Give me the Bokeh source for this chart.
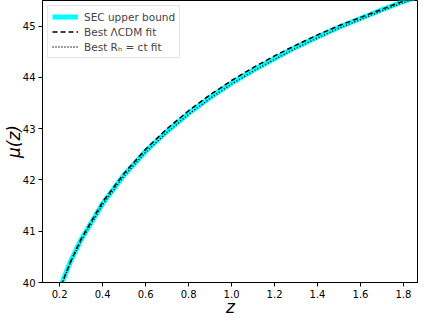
from bokeh.plotting import figure
from bokeh.models import Range1d, FixedTicker, PrintfTickFormatter, Legend, LegendItem
from bokeh.embed import file_html
from bokeh.resources import INLINE

z = [0.15, 0.2, 0.25, 0.3, 0.4, 0.5, 0.6, 0.7, 0.8, 0.9, 1.0, 1.1, 1.2, 1.3, 1.4, 1.5, 1.6, 1.7, 1.8, 1.85]
mu_rh = [39.19, 39.86, 40.39, 40.82, 41.52, 42.08, 42.54, 42.93, 43.28, 43.59, 43.87, 44.12, 44.35,
         44.57, 44.77, 44.96, 45.13, 45.30, 45.46, 45.53]
mu_sec = [39.21, 39.88, 40.41, 40.84, 41.54, 42.10, 42.56, 42.95, 43.30, 43.61, 43.89, 44.14, 44.37,
          44.59, 44.79, 44.98, 45.15, 45.32, 45.48, 45.55]
mu_lcdm = [39.19, 39.87, 40.40, 40.85, 41.57, 42.13, 42.60, 43.00, 43.35, 43.66, 43.94, 44.19, 44.42,
           44.63, 44.83, 45.01, 45.17, 45.33, 45.49, 45.56]
x_ticks = [0.2, 0.4, 0.6, 0.8, 1.0, 1.2, 1.4, 1.6, 1.8]
y_ticks = [40, 41, 42, 43, 44, 45]

p = figure(width=418, height=319, output_backend="svg", toolbar_location=None,
           x_range=Range1d(0.12, 1.87), y_range=Range1d(40, 45.5),
           min_border_left=0, min_border_right=0, min_border_top=0, min_border_bottom=0)
p.grid.visible = False
p.outline_line_color = "black"
p.outline_line_alpha = 1
p.outline_line_width = 1

r_sec = p.line(z, mu_sec, line_color="cyan", line_width=5)
r_lcdm = p.line(z, mu_lcdm, line_color="black", line_width=1.5, line_dash="5 3")
r_rh = p.line(z, mu_rh, line_color="black", line_width=1.5, line_dash="1 2")

for ax in (p.xaxis[0], p.yaxis[0]):
    ax.major_label_text_font = "DejaVu Sans"
    ax.major_label_text_font_size = "10px"
    ax.major_label_text_color = "black"
    ax.major_tick_in = 0
    ax.major_tick_out = 4
    ax.minor_tick_out = 0
    ax.minor_tick_in = 0
    ax.axis_line_color = "black"
    ax.major_tick_line_color = "black"
    ax.axis_label_text_font = "DejaVu Sans"
    ax.axis_label_text_font_style = "italic"
    ax.axis_label_text_font_size = "17px"
    ax.axis_label_text_color = "black"
    ax.major_label_standoff = 3

p.xaxis[0].axis_label_standoff = -4
p.yaxis[0].axis_label_standoff = -4
p.xaxis[0].ticker = FixedTicker(ticks=x_ticks)
p.xaxis[0].formatter = PrintfTickFormatter(format="%.1f")
p.yaxis[0].ticker = FixedTicker(ticks=y_ticks)
p.xaxis[0].axis_label = "z"
p.yaxis[0].axis_label = "μ(z)"

legend = Legend(items=[
    LegendItem(label="SEC upper bound", renderers=[r_sec]),
    LegendItem(label="Best ΛCDM fit", renderers=[r_lcdm]),
    LegendItem(label="Best Rₕ = ct fit", renderers=[r_rh]),
], location="top_left")
legend.label_text_font = "DejaVu Sans"
legend.label_text_font_size = "10.5px"
legend.glyph_width = 26
legend.glyph_height = 13
legend.label_height = 13
legend.spacing = 2
legend.padding = 4
legend.margin = 5
legend.label_standoff = 6
legend.border_line_color = "#cccccc"
legend.border_line_width = 1
legend.background_fill_alpha = 0.9
p.add_layout(legend)

open("out.html", "w").write(file_html(p, INLINE))
